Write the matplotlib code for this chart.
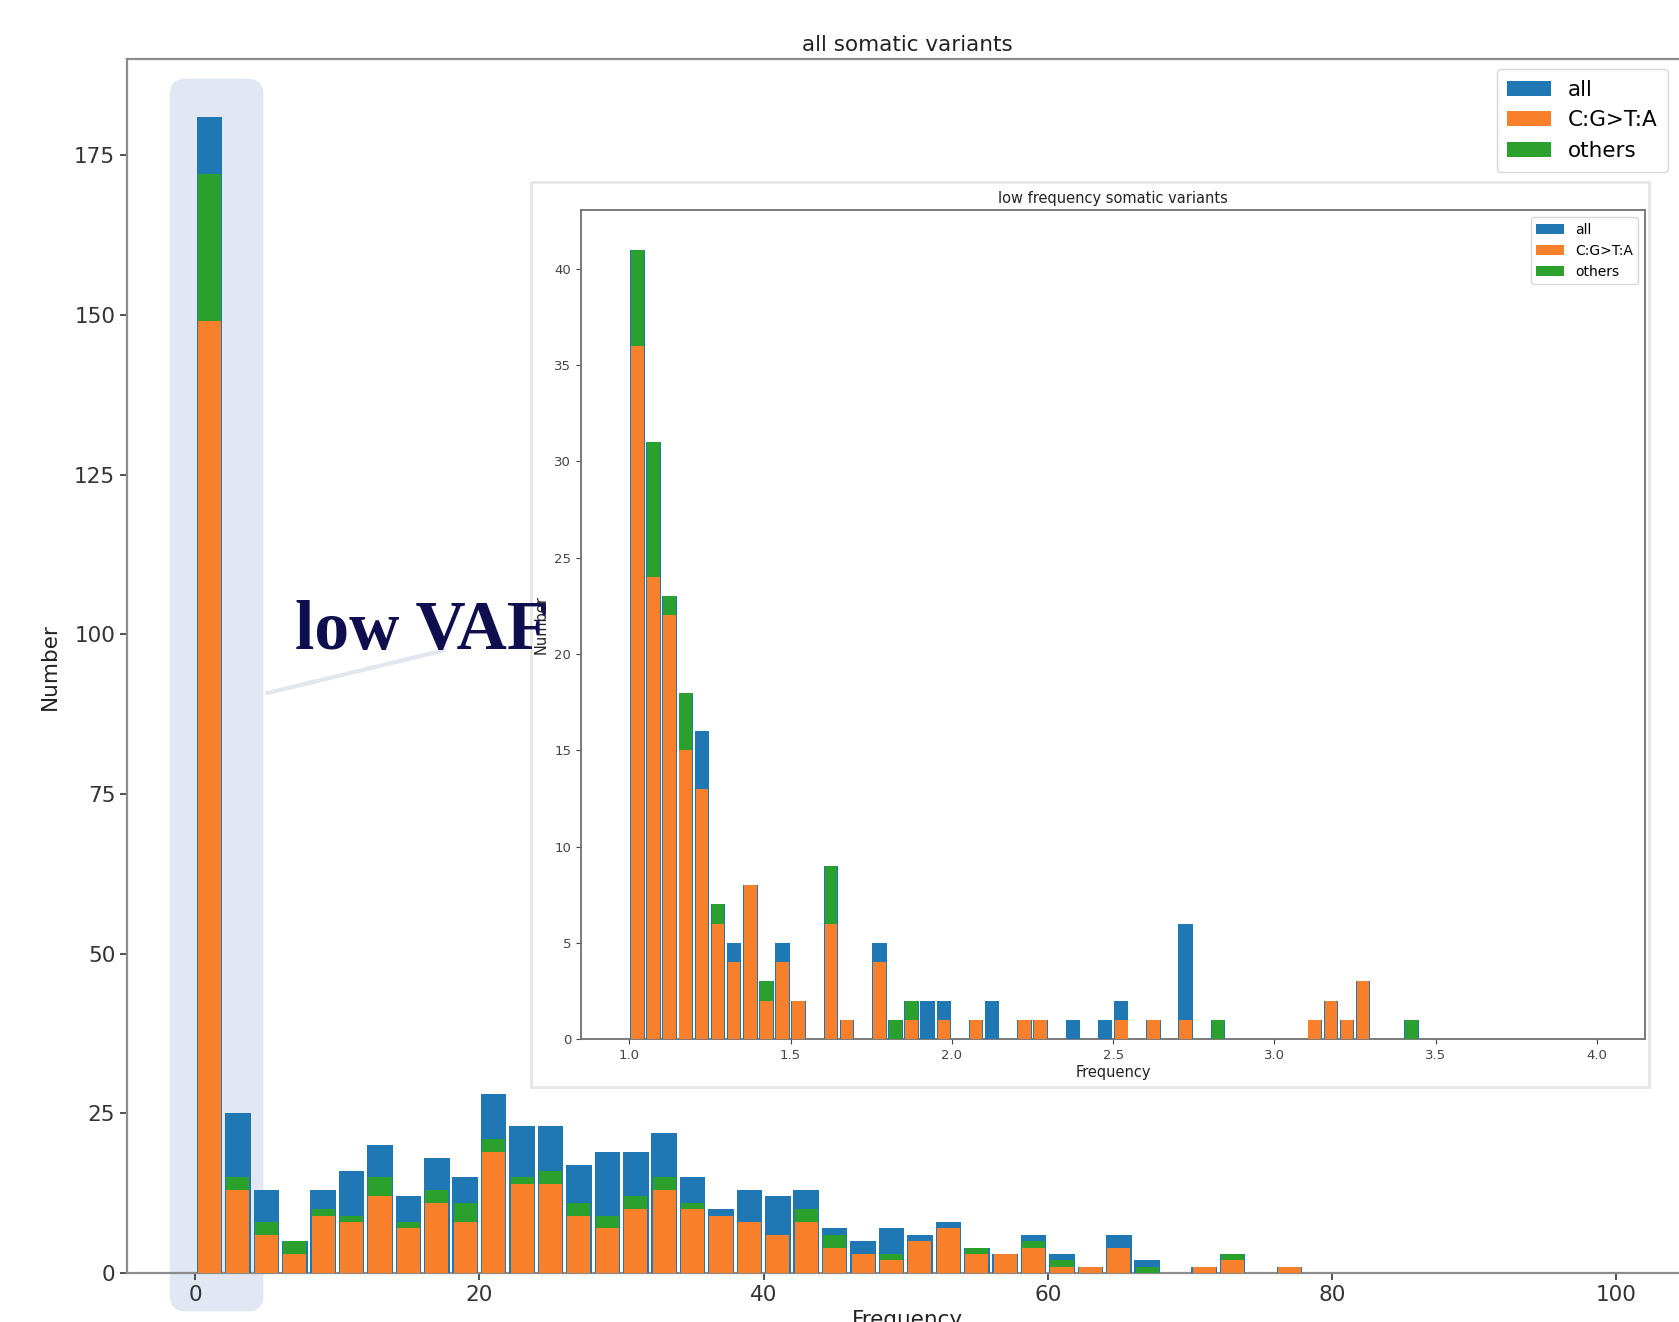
import numpy as np
import matplotlib
matplotlib.use("Agg")
import matplotlib.pyplot as plt
from matplotlib.patches import FancyBboxPatch, Rectangle

# main histogram: bin centres (width 2) and counts
main_bins = [1, 3, 5, 7, 9, 11, 13, 15, 17, 19, 21, 23, 25, 27, 29, 31, 33, 35, 37, 39,
             41, 43, 45, 47, 49, 51, 53, 55, 57, 59, 61, 63, 65, 67, 69, 71, 73, 75, 77]
main_all = [181, 25, 13, 5, 13, 16, 20, 12, 18, 15, 28, 23, 23, 17, 19, 19, 22, 15, 10, 13,
            12, 13, 7, 5, 7, 6, 8, 4, 3, 6, 3, 1, 6, 2, 0, 1, 3, 0, 1]
main_ctga = [149, 13, 6, 3, 9, 8, 12, 7, 11, 8, 19, 14, 14, 9, 7, 10, 13, 10, 9, 8,
             6, 8, 4, 3, 2, 5, 7, 3, 3, 4, 1, 1, 4, 0, 0, 1, 2, 0, 1]
main_others = [23, 2, 2, 2, 1, 1, 3, 1, 2, 3, 2, 1, 2, 2, 2, 2, 2, 1, 0, 0,
               0, 2, 2, 0, 1, 0, 0, 1, 0, 1, 1, 0, 0, 1, 0, 0, 1, 0, 0]

# inset histogram: left edges of bins (width 0.05), only non-empty bins
low_bins = [1.00, 1.05, 1.10, 1.15, 1.20, 1.25, 1.30, 1.35, 1.40, 1.45, 1.50, 1.60, 1.65,
            1.75, 1.80, 1.85, 1.90, 1.95, 2.05, 2.10, 2.20, 2.25, 2.35, 2.45, 2.50, 2.60,
            2.70, 2.80, 3.10, 3.15, 3.20, 3.25, 3.40]
low_all = [41, 31, 23, 18, 16, 7, 5, 8, 3, 5, 2, 9, 1,
           5, 1, 2, 2, 2, 1, 2, 1, 1, 1, 1, 2, 1,
           6, 1, 1, 2, 1, 3, 1]
low_ctga = [36, 24, 22, 15, 13, 6, 4, 8, 2, 4, 2, 6, 1,
            4, 0, 1, 0, 1, 1, 0, 1, 1, 0, 0, 1, 1,
            1, 0, 1, 2, 1, 3, 0]
low_others = [5, 7, 1, 3, 0, 1, 0, 0, 1, 0, 0, 3, 0,
              0, 1, 1, 0, 0, 0, 0, 0, 0, 0, 0, 0, 0,
              0, 1, 0, 0, 0, 0, 1]

blue, orange, green = '#1f77b4', '#f8802a', '#2ca02c'
spine_col = '#8c8c8c'

fig = plt.figure(figsize=(16.79, 13.22), dpi=100)

# ---- main chart
ax = fig.add_axes([0.0757, 0.037, 0.93, 0.918], zorder=0)
ax.bar(main_bins, main_all, width=1.8, color=blue, zorder=3, label='all')
ax.bar(main_bins, main_ctga, width=1.62, color=orange, zorder=4, label='C:G>T:A')
ax.bar(main_bins, main_others, width=1.62, bottom=main_ctga, color=green, zorder=4, label='others')
ax.set_xlim(-4.8, 105.1)
ax.set_ylim(0, 190)
ax.set_xticks([0, 20, 40, 60, 80, 100])
ax.set_yticks([0, 25, 50, 75, 100, 125, 150, 175])
ax.tick_params(labelsize=15.5, colors='#333333', width=1.2, length=5)
for s in ax.spines.values():
    s.set_color(spine_col)
    s.set_linewidth(1.6)
ax.set_title('all somatic variants', fontsize=15.5, color='#222222')
ax.set_xlabel('Frequency', fontsize=15.5, color='#222222')
ax.set_ylabel('Number', fontsize=15.5, color='#222222', labelpad=10)
ax.legend(loc='upper right', bbox_to_anchor=(1.0, 0.956), bbox_transform=fig.transFigure,
          fontsize=15.5, handlelength=2.0, borderpad=0.5, framealpha=1, edgecolor='#d8d8d8')

# highlight around the low VAF bars
fig.canvas.draw()
x0, y0 = ax.transData.transform((-1.8, -6.0))
x1, y1 = ax.transData.transform((4.8, 187.0))
hl = FancyBboxPatch((x0, y0), x1 - x0, y1 - y0, boxstyle='round,pad=0,rounding_size=16',
                    transform=None, facecolor='#dce5f3', edgecolor='none', alpha=0.85,
                    zorder=1, clip_on=False)
ax.add_patch(hl)
ax.plot([5.05, 17.5], [90.8, 97.5], color='#e1e6ef', lw=3, zorder=2, solid_capstyle='round')

# inset card background
card = Rectangle((0.316, 0.178), 0.666, 0.684, transform=fig.transFigure,
                 facecolor='white', edgecolor='#e6e6e6', lw=2, zorder=1)
fig.patches.append(card)

# ---- inset chart
ins = fig.add_axes([0.346, 0.214, 0.634, 0.627], zorder=2)
centres = np.array(low_bins) + 0.025
ins.bar(centres, low_all, width=0.045, color=blue, label='all', zorder=3)
ins.bar(centres, low_ctga, width=0.039, color=orange, label='C:G>T:A', zorder=4)
ins.bar(centres, low_others, width=0.039, bottom=low_ctga, color=green, label='others', zorder=4)
ins.set_xlim(0.85, 4.15)
ins.set_ylim(0, 43.05)
ins.set_xticks([1.0, 1.5, 2.0, 2.5, 3.0, 3.5, 4.0])
ins.set_yticks([0, 5, 10, 15, 20, 25, 30, 35, 40])
ins.tick_params(labelsize=9.5, colors='#444444', length=3.5)
for s in ins.spines.values():
    s.set_color('#707070')
    s.set_linewidth(1.3)
ins.set_title('low frequency somatic variants', fontsize=10.5, color='#222222', pad=5)
ins.set_xlabel('Frequency', fontsize=10.5, color='#222222', labelpad=2)
ins.set_ylabel('Number', fontsize=10.5, color='#222222')
ins.legend(loc='upper right', fontsize=10, framealpha=1, edgecolor='#d8d8d8', borderpad=0.4)

fig.text(0.1755, 0.509, 'low VAF', fontsize=50, fontweight='bold', family='Liberation Serif',
         color='#0f0f50', zorder=5)

fig.savefig('out.png', dpi=100)
